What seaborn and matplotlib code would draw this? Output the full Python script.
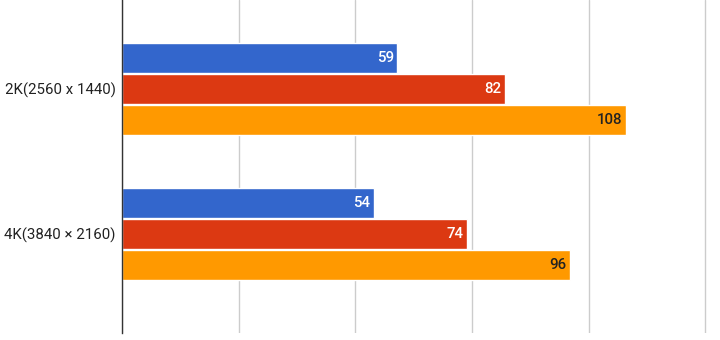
import matplotlib
matplotlib.use("Agg")
import matplotlib.pyplot as plt
import seaborn as sns
import pandas as pd

categories = ["2K(2560 x 1440)", "4K(3840 × 2160)"]
series_names = ["Series 1", "Series 2", "Series 3"]
values_s1 = [59, 54]
values_s2 = [82, 74]
values_s3 = [108, 96]
colors = ["#3366cc", "#dc3912", "#ff9900"]
label_colors = ["white", "white", "#222222"]
grid_ticks = [0, 25, 50, 75, 100, 125]

rows = []
for name, vals in zip(series_names, [values_s1, values_s2, values_s3]):
    for c, v in zip(categories, vals):
        rows.append({"category": c, "series": name, "value": v})
df = pd.DataFrame(rows)

sns.set_style("white")
plt.rcParams["font.family"] = ["Roboto", "DejaVu Sans"]

fig = plt.figure(figsize=(7.2, 3.4), dpi=100)
ax = fig.add_axes([122 / 720, 7 / 340, (707 - 122) / 720, 333 / 340])

sns.barplot(data=df, y="category", x="value", hue="series", orient="h",
            palette=colors, width=0.645, gap=0.035, saturation=1,
            legend=False, ax=ax, errorbar=None)

for cont, lc in zip(ax.containers, label_colors):
    texts = ax.bar_label(cont, padding=-2.5, color=lc, fontsize=10.8, fontweight="medium")
    for t in texts:
        t.set_ha("right")

ax.set_xlim(0, 125.4)
ax.set_ylim(1.683, -0.614)
ax.set_xticks(grid_ticks)
ax.xaxis.grid(True, color="#cccccc", linewidth=1)
ax.set_axisbelow(True)
ax.tick_params(axis="x", length=0, labelbottom=False)
ax.tick_params(axis="y", length=0, labelsize=10.8, labelcolor="#222222", pad=4.5)
ax.set_xlabel("")
ax.set_ylabel("")
for s in ["top", "right", "bottom"]:
    ax.spines[s].set_visible(False)
ax.spines["left"].set_color("#333333")
ax.spines["left"].set_linewidth(1)
ax.spines["left"].set_zorder(5)

fig.savefig("out.png", dpi=100)
